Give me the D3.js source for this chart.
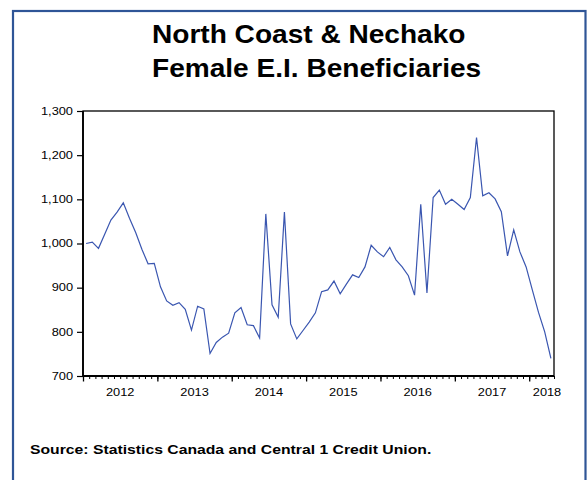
<!DOCTYPE html>
<html><head><meta charset="utf-8">
<script src="https://cdn.jsdelivr.net/npm/d3@7"></script>
<style>html,body{margin:0;padding:0;background:#fff;}svg{display:block;}</style>
</head><body>
<svg id="chart" width="587" height="480"></svg>
<script>
const titleLines = ["North Coast & Nechako", "Female E.I. Beneficiaries"];
const sourceText = "Source: Statistics Canada and Central 1 Credit Union.";
const years = ["2012", "2013", "2014", "2015", "2016", "2017", "2018"];
const yTickValues = [700, 800, 900, 1000, 1100, 1200, 1300];

// monthly values, January 2012 to April 2018
const v2012 = [1000, 1003, 989, 1021, 1053, 1071, 1092, 1057, 1025, 987, 954, 955];
const v2013 = [902, 870, 860, 866, 851, 804, 858, 852, 751, 776, 788, 797];
const v2014 = [843, 855, 816, 814, 786, 1067, 861, 833, 1071, 818, 784, 803];
const v2015 = [822, 843, 891, 895, 915, 886, 908, 929, 923, 947, 996, 981];
const v2016 = [970, 991, 963, 947, 927, 883, 1089, 888, 1104, 1121, 1089, 1100];
const v2017 = [1089, 1077, 1104, 1240, 1108, 1115, 1101, 1072, 972, 1031, 981, 947];
const v2018 = [895, 844, 800, 740];

const values = [].concat(v2012, v2013, v2014, v2015, v2016, v2017, v2018);
const n = values.length;

const W = 587, H = 480;
const L = 83, R = 554, T = 111, B = 376;
const FONT = "'Liberation Sans', Arial, Helvetica, sans-serif";
const SX = 1.22;

const svg = d3.select("#chart");
svg.append("rect").attr("width", W).attr("height", H).attr("fill", "#fff");
svg.append("rect").attr("x", 13).attr("y", 11).attr("width", 572.5).attr("height", 490)
  .attr("fill", "none").attr("stroke", "#2F5597").attr("stroke-width", 2.2);

// title
svg.selectAll("text.title").data(titleLines).enter().append("text")
  .attr("class", "title")
  .attr("transform", (d, i) => `translate(152,${43.3 + i * 34}) scale(1.08,1)`)
  .attr("font-family", FONT).attr("font-size", 26).attr("font-weight", "bold")
  .attr("fill", "#000").text(d => d);

const x = d3.scaleLinear().domain([0, n]).range([L, R]);
const y = d3.scaleLinear().domain([700, 1300]).range([B, T]);

// y axis
const yAxis = svg.append("g").attr("transform", `translate(${L},0)`)
  .call(d3.axisLeft(y).tickValues(yTickValues).tickSize(6).tickFormat(""));
yAxis.select(".domain").remove();
yAxis.selectAll(".tick line").attr("stroke", "#000").attr("stroke-width", 1.2);
svg.append("g").selectAll("text").data(yTickValues).enter().append("text")
  .attr("transform", d => `translate(${L - 10},${y(d)}) scale(${SX},1)`)
  .attr("dy", "0.36em").attr("text-anchor", "end")
  .attr("font-family", FONT).attr("font-size", 10.5).attr("fill", "#000")
  .text(d => d3.format(",")(d));

// x axis: monthly minor ticks, yearly major ticks
const xMinor = svg.append("g").attr("transform", `translate(0,${B})`)
  .call(d3.axisBottom(x).tickValues(d3.range(0, n + 1)).tickSize(3).tickFormat(""));
xMinor.select(".domain").remove();
xMinor.selectAll(".tick line").attr("stroke", "#000").attr("stroke-width", 1);
const xMajor = svg.append("g").attr("transform", `translate(0,${B})`)
  .call(d3.axisBottom(x).tickValues(d3.range(0, n + 1, 12)).tickSize(5.5).tickFormat(""));
xMajor.select(".domain").remove();
xMajor.selectAll(".tick line").attr("stroke", "#000").attr("stroke-width", 1.3);

svg.append("g").selectAll("text").data(years).enter().append("text")
  .attr("transform", (d, k) => `translate(${Math.min(x(12 * k + 6), R - 7)},395.5) scale(${SX},1)`)
  .attr("text-anchor", "middle")
  .attr("font-family", FONT).attr("font-size", 10.5).attr("fill", "#000")
  .text(d => d);

// frame
svg.append("rect").attr("x", L).attr("y", T).attr("width", R - L).attr("height", B - T)
  .attr("fill", "none").attr("stroke", "#000").attr("stroke-width", 1.3);
svg.append("line").attr("x1", L).attr("x2", L).attr("y1", T).attr("y2", B)
  .attr("stroke", "#000").attr("stroke-width", 1.8);
svg.append("line").attr("x1", L).attr("x2", R).attr("y1", B).attr("y2", B)
  .attr("stroke", "#000").attr("stroke-width", 1.8);

// series line
const line = d3.line().x((d, i) => x(i + 0.5)).y(d => y(d));
svg.append("path").datum(values).attr("d", line)
  .attr("fill", "none").attr("stroke", "#3A56B0").attr("stroke-width", 1.2)
  .attr("stroke-linejoin", "miter");

// source
svg.append("text")
  .attr("transform", `translate(30,454) scale(1.26,1)`)
  .attr("font-family", FONT).attr("font-size", 12.5).attr("font-weight", "bold")
  .attr("fill", "#000").text(sourceText);
</script>
</body></html>
